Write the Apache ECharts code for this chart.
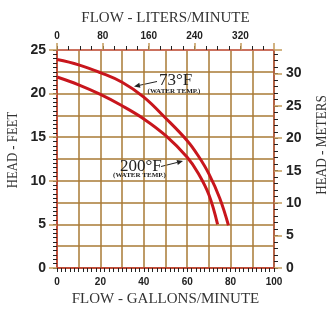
<!DOCTYPE html>
<html>
<head>
<meta charset="utf-8">
<script src="https://cdn.jsdelivr.net/npm/echarts@6/dist/echarts.min.js"></script>
<style>
html,body{margin:0;padding:0;background:#fff;}
#c{width:328px;height:309px;}
</style>
</head>
<body>
<div id="c"></div>
<script>
// ---- data ----
var gpm73   = [0, 10, 20, 30, 40, 50, 60, 65, 70, 75, 79];
var head73  = [23.9, 23.3, 22.4, 21.3, 19.6, 17.2, 14.6, 12.9, 10.8, 8.0, 4.9];
var gpm200  = [0, 10, 20, 30, 40, 50, 60, 65, 70, 74];
var head200 = [21.9, 21.0, 19.9, 18.6, 17.1, 15.2, 12.7, 10.9, 8.4, 5.0];
var gpmTicks   = [0, 20, 40, 60, 80, 100];
var literTicks = [0, 80, 160, 240, 320];
var feetTicks  = [0, 5, 10, 15, 20, 25];
var meterTicks = [0, 5, 10, 15, 20, 25, 30];
var labels = ['73°F', '200°F', '(WATER TEMP.)'];

var GPM_MAX = 100, LPM_MAX = 100 * 3.78541, FT_MAX = 25, M_MAX = 33.6;

function zip(a, b) { return a.map(function (v, i) { return [v, b[i]]; }); }
function inList(list) { return function (v) { return list.indexOf(Math.round(v * 100) / 100) >= 0 ? String(v) : ''; }; }

var grid = '#a97a35', tan = '#c39a5a', red = '#c0352b', ink = '#222';
var tickLbl = { fontFamily: 'Liberation Sans', fontWeight: 'bold', color: ink };
var serif = 'Liberation Serif';

var chart = echarts.init(document.getElementById('c'), null, { renderer: 'canvas' });

function arrow(tail, tip) {
  var dx = tip[0] - tail[0], dy = tip[1] - tail[1];
  var L = Math.sqrt(dx * dx + dy * dy), ux = dx / L, uy = dy / L;
  var hl = 6, hw = 2.6;
  var bx = tip[0] - ux * hl, by = tip[1] - uy * hl;
  return [
    { type: 'line', shape: { x1: tail[0], y1: tail[1], x2: bx, y2: by }, style: { stroke: ink, lineWidth: 1 } },
    { type: 'polygon', shape: { points: [tip, [bx - uy * hw, by + ux * hw], [bx + uy * hw, by - ux * hw]] }, style: { fill: ink } }
  ];
}

var option = {
  animation: false,
  backgroundColor: '#fff',
  grid: { left: 57, right: 54, top: 50, bottom: 41, containLabel: false, outerBoundsMode: 'none' },
  xAxis: [
    { type: 'value', position: 'bottom', min: 0, max: GPM_MAX, interval: 10,
      axisLine: { onZero: false, lineStyle: { color: red, width: 1.5 } },
      axisTick: { show: true, length: 4, lineStyle: { color: ink } },
      minorTick: { show: true, splitNumber: 5, length: 4, lineStyle: { color: ink } },
      axisLabel: Object.assign({ fontSize: 10, margin: 9, formatter: inList(gpmTicks) }, tickLbl),
      splitLine: { show: true, lineStyle: { color: grid, width: 1.5 } },
      name: 'FLOW - GALLONS/MINUTE', nameLocation: 'middle', nameGap: 23,
      nameTextStyle: { fontFamily: serif, fontSize: 15, color: '#333' } },
    { type: 'value', position: 'top', min: 0, max: LPM_MAX, interval: 20,
      axisLine: { onZero: false, lineStyle: { color: '#d0645c', width: 1.5 } },
      axisTick: { show: true, length: 4, lineStyle: { color: ink } },
      axisLabel: Object.assign({ fontSize: 10, margin: 9, showMaxLabel: false, formatter: inList(literTicks) }, tickLbl),
      splitLine: { show: false },
      name: 'FLOW - LITERS/MINUTE', nameLocation: 'middle', nameGap: 24,
      nameTextStyle: { fontFamily: serif, fontSize: 15, color: '#333' } },
    { type: 'value', position: 'top', min: 0, max: LPM_MAX, interval: 80,
      axisLine: { show: false, onZero: false },
      axisTick: { show: true, length: 7, lineStyle: { color: tan, width: 1.5 } },
      axisLabel: { show: false }, splitLine: { show: false } }
  ],
  yAxis: [
    { type: 'value', position: 'left', min: 0, max: FT_MAX, interval: 2.5,
      axisLine: { onZero: false, lineStyle: { color: red, width: 1.5 } },
      axisTick: { show: true, length: 4, lineStyle: { color: ink } },
      minorTick: { show: true, splitNumber: 5, length: 4, lineStyle: { color: ink } },
      axisLabel: Object.assign({ fontSize: 14, margin: 11, formatter: inList(feetTicks) }, tickLbl),
      splitLine: { show: true, lineStyle: { color: grid, width: 1.5 } } },
    { type: 'value', position: 'left', min: 0, max: FT_MAX, interval: 5,
      axisLine: { show: false, onZero: false },
      axisTick: { show: true, length: 8, lineStyle: { color: tan, width: 1.5 } },
      axisLabel: { show: false }, splitLine: { show: false } },
    { type: 'value', position: 'right', min: 0, max: M_MAX, interval: 1,
      axisLine: { onZero: false, lineStyle: { color: '#b0503a', width: 1.5 } },
      axisTick: { show: true, length: 4, lineStyle: { color: ink } },
      axisLabel: Object.assign({ fontSize: 14, margin: 12, showMaxLabel: false, formatter: inList(meterTicks) }, tickLbl),
      splitLine: { show: false } },
    { type: 'value', position: 'right', min: 0, max: M_MAX, interval: 5,
      axisLine: { show: false, onZero: false },
      axisTick: { show: true, length: 8, lineStyle: { color: tan, width: 1.5 } },
      axisLabel: { show: false }, splitLine: { show: false } }
  ],
  series: [
    { name: labels[0], type: 'line', xAxisIndex: 0, yAxisIndex: 0, data: zip(gpm73, head73),
      smooth: 0.4, symbol: 'none', lineStyle: { color: '#c8161d', width: 3 }, z: 5 },
    { name: labels[1], type: 'line', xAxisIndex: 0, yAxisIndex: 0, data: zip(gpm200, head200),
      smooth: 0.4, symbol: 'none', lineStyle: { color: '#c8161d', width: 3 }, z: 5 }
  ],
  graphic: [].concat(
    [
      { type: 'text', x: 13, y: 150, rotation: Math.PI / 2, scaleX: 0.85,
        style: { text: 'HEAD - FEET', font: '15px "Liberation Serif"', fill: '#333', align: 'center', verticalAlign: 'middle' } },
      { type: 'text', x: 322, y: 145, rotation: Math.PI / 2, scaleX: 0.88,
        style: { text: 'HEAD - METERS', font: '15px "Liberation Serif"', fill: '#333', align: 'center', verticalAlign: 'middle' } },
      { type: 'text', x: 159, y: 81, z: 10,
        style: { text: labels[0], font: '17px "Liberation Serif"', fill: ink, align: 'left', verticalAlign: 'middle' } },
      { type: 'text', x: 174, y: 91, z: 10,
        style: { text: labels[2], font: 'bold 7px "Liberation Serif"', fill: ink, align: 'center', verticalAlign: 'middle' } },
      { type: 'text', x: 120, y: 166.5, z: 10,
        style: { text: labels[1], font: '17px "Liberation Serif"', fill: ink, align: 'left', verticalAlign: 'middle' } },
      { type: 'text', x: 139.5, y: 175.5, z: 10,
        style: { text: labels[2], font: 'bold 7px "Liberation Serif"', fill: ink, align: 'center', verticalAlign: 'middle' } }
    ],
    arrow([157, 81.5], [134, 86.5]),
    arrow([161, 166.5], [183, 161])
  )
};
chart.setOption(option);
</script>
</body>
</html>
